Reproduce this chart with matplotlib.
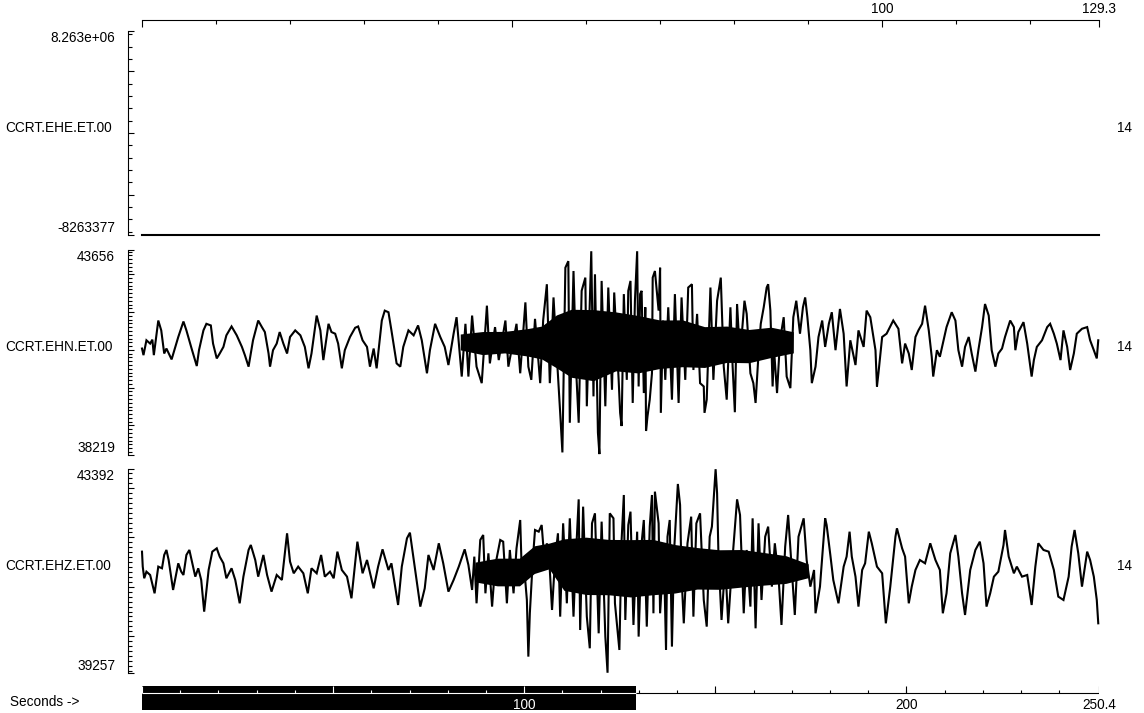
import numpy as np
import matplotlib
matplotlib.use("Agg")
import matplotlib.pyplot as plt
from matplotlib.ticker import FixedLocator, MultipleLocator

plt.rcParams['font.family'] = ['Liberation Sans', 'DejaVu Sans']
plt.rcParams['font.size'] = 9.8

W, H = 1144, 713
PT = 0.72  # points per pixel at dpi 100

channels = ['CCRT.EHE.ET.00', 'CCRT.EHN.ET.00', 'CCRT.EHZ.ET.00']
gains = ['14', '14', '14']
window_end = 129.3   # seconds shown in the traces
record_end = 250.4   # seconds in the whole record

ehe_range = (-8263377, 8263377)
ehn_range = (38219, 43656)
ehz_range = (39257, 43392)

# EHE is a dead channel, flat at its minimum
t_ehe = [0.0, 129.3]
ehe = [-8263377, -8263377]

# EHN turning points (seconds, counts)
t_ehn = [
    0.0, 0.2, 0.6, 1.1, 1.4, 1.6, 2.2, 2.6, 3.0, 3.3,
    4.0, 4.5, 4.9, 5.6, 6.0, 6.7, 7.4, 7.7, 8.3, 8.7,
    9.3, 9.6, 10.1, 10.5, 11.0, 11.4, 12.1, 12.8, 13.5, 13.9,
    14.4, 15.0, 15.7, 16.2, 16.6, 17.1, 17.3, 17.7, 18.2, 18.6,
    19.1, 19.6, 20.0, 20.7, 21.4, 22.0, 22.5, 22.9, 23.6, 24.1,
    24.5, 25.2, 25.6, 26.1, 26.5, 27.0, 27.4, 28.1, 28.8, 29.2,
    29.8, 30.4, 30.8, 31.3, 31.7, 32.4, 32.8, 33.3, 33.7, 34.4,
    34.9, 35.3, 36.0, 36.7, 37.3, 37.8, 38.5, 38.9, 39.6, 40.3,
    40.9, 41.4, 42.1, 42.5, 43.2, 43.7, 44.1, 44.6, 45.2, 45.9,
    46.6, 47.0, 47.7, 48.2, 49.1, 49.5, 50.6, 51.1, 51.8, 52.2,
    52.6, 53.1, 53.8, 54.2, 54.7, 55.1, 55.6, 56.0, 56.5, 56.8,
    57.2, 57.6, 57.8, 58.3, 58.7, 59.0, 59.4, 59.9, 60.1, 60.7,
    61.0, 61.2, 61.6, 61.8, 62.1, 62.6, 63.0, 63.5, 63.8, 64.4,
    64.6, 64.8, 65.1, 65.5, 65.7, 66.0, 66.3, 66.6, 66.9, 67.1,
    67.3, 67.5, 67.8, 68.0, 68.1, 68.3, 68.6, 68.9, 69.0, 69.3,
    69.8, 70.0, 70.1, 70.4, 70.7, 71.1, 71.6, 72.0, 72.5, 72.9,
    73.4, 73.8, 74.3, 74.5, 75.0, 75.4, 75.9, 76.0, 76.3, 76.8,
    77.2, 77.7, 78.2, 78.6, 79.0, 79.5, 79.8, 80.1, 80.4, 80.8,
    81.4, 81.7, 82.2, 82.6, 82.9, 83.3, 83.6, 84.0, 84.4, 84.6,
    84.9, 85.2, 85.4, 85.8, 86.2, 86.7, 87.1, 87.6, 88.0, 88.4,
    88.9, 89.3, 89.6, 89.9, 90.3, 90.5, 91.0, 91.4, 91.9, 92.3,
    92.8, 93.2, 93.7, 94.3, 94.8, 95.2, 95.7, 96.4, 96.8, 97.5,
    97.9, 98.4, 99.1, 99.3, 99.5, 100.0, 100.6, 101.5, 102.2, 102.7,
    103.1, 103.6, 104.0, 104.5, 104.9, 105.4, 105.8, 106.3, 106.7, 106.9,
    107.4, 107.8, 108.3, 108.7, 109.4, 109.9, 110.3, 110.8, 111.2, 111.7,
    112.1, 112.6, 113.0, 113.5, 113.9, 114.4, 114.8, 115.3, 115.7, 116.2,
    116.6, 117.3, 117.8, 118.0, 118.4, 119.1, 119.6, 120.2, 120.5, 120.9,
    121.6, 122.3, 122.7, 123.2, 123.6, 124.1, 124.5, 125.0, 125.4, 125.9,
    126.3, 127.0, 127.7, 128.1, 128.6, 129.0, 129.2,
]
ehn = [
    41036, 40861, 41254, 41167, 41271, 40861, 41777, 41516, 40904, 41036,
    40748, 41079, 41341, 41751, 41516, 41036, 40573, 40992, 41516, 41690,
    41647, 41167, 40774, 40904, 41079, 41385, 41620, 41385, 41079, 40861,
    40556, 41254, 41777, 41603, 41472, 40904, 40556, 40992, 41167, 41472,
    41167, 40904, 41341, 41516, 41385, 41079, 40512, 40904, 41908, 41516,
    40730, 41690, 41472, 41428, 41167, 40512, 40992, 41341, 41585, 41620,
    41254, 41079, 40556, 41036, 40512, 41777, 42039, 41996, 41516, 40643,
    40556, 41079, 41516, 41385, 41647, 41254, 40381, 40992, 41690, 41341,
    41079, 40599, 41428, 41865, 40294, 41690, 40294, 41908, 40556, 40120,
    42170, 40643, 41603, 40730, 41777, 40556, 41690, 40381, 42257, 40556,
    40207, 41821, 40120, 41777, 42737, 40120, 42388, 40992, 39334, 38287,
    43174, 43348, 39072, 43087, 40294, 39072, 42563, 42912, 39508, 43610,
    39770, 43000, 38810, 38243, 42825, 39508, 42650, 39945, 42519, 40207,
    39334, 38985, 42476, 40207, 42563, 42825, 39596, 42301, 43610, 40032,
    42476, 42563, 39858, 42127, 38854, 39247, 39683, 40381, 42912, 43087,
    42039, 43174, 39334, 41777, 40207, 42127, 39683, 42476, 39596, 42388,
    40207, 42650, 42737, 40468, 41952, 40120, 40032, 39334, 39683, 42650,
    40207, 42301, 42912, 40556, 39683, 42127, 40556, 39351, 42214, 40818,
    42301, 41952, 40381, 40120, 39596, 40904, 41690, 42127, 42650, 42737,
    42039, 40032, 40992, 39858, 41254, 41865, 40294, 39988, 41865, 42301,
    41428, 42127, 42388, 41865, 40992, 40120, 40556, 41341, 41777, 41079,
    41690, 41996, 40992, 42083, 41428, 40032, 41254, 40599, 41516, 41079,
    42039, 41865, 40992, 40032, 40381, 41341, 41428, 41777, 41559, 40643,
    41167, 40904, 40468, 41341, 41516, 41690, 42170, 41516, 40818, 40294,
    40992, 40818, 41254, 41603, 41996, 41777, 40992, 40556, 41079, 41341,
    40904, 40425, 40992, 41603, 42214, 41908, 40992, 40556, 40904, 41036,
    41341, 41777, 41603, 40992, 41472, 41734, 41167, 40294, 40730, 41079,
    41254, 41603, 41690, 41428, 41167, 40730, 41516, 41079, 40468, 40904,
    41428, 41559, 41603, 41254, 40992, 40774, 41254,
]
# dense part of the EHN coda: upper / lower edge of the solid core
t_ehn_band = [43, 46, 49, 52, 54, 56, 58, 61, 64, 67, 70, 73, 76, 79, 82, 85, 88]
ehn_band_hi = [41420, 41485, 41490, 41560, 41630, 41925, 42075, 42065, 42005,
               41910, 41790, 41795, 41615, 41630, 41540, 41600, 41480]
ehn_band_lo = [41000, 40875, 40920, 40840, 40760, 40525, 40275, 40185, 40445,
               40390, 40510, 40555, 40535, 40670, 40660, 40800, 40920]

# EHZ turning points (seconds, counts)
t_ehz = [
    0.0, 0.1, 0.3, 0.6, 1.1, 1.7, 2.2, 2.7, 3.0, 3.3,
    3.6, 4.2, 4.9, 5.3, 5.6, 6.0, 6.4, 6.7, 7.2, 7.6,
    8.0, 8.4, 9.0, 9.5, 10.1, 10.5, 11.0, 11.4, 12.1, 12.6,
    13.2, 13.7, 14.4, 14.7, 15.3, 15.7, 16.4, 16.9, 17.5, 18.2,
    18.9, 19.6, 20.0, 20.5, 21.1, 21.8, 22.4, 22.9, 23.6, 24.2,
    24.7, 25.4, 25.9, 26.4, 27.0, 27.7, 28.3, 28.8, 29.1, 29.8,
    30.4, 31.3, 31.9, 32.5, 33.3, 33.7, 34.6, 35.1, 35.8, 36.2,
    36.9, 37.6, 38.2, 38.7, 39.4, 40.1, 40.7, 41.4, 42.1, 42.8,
    43.6, 44.1, 44.6, 44.9, 45.2, 45.7, 46.1, 46.4, 46.8, 47.3,
    47.7, 48.4, 48.8, 49.3, 49.7, 50.2, 50.6, 51.1, 51.3, 51.7,
    52.0, 52.2, 52.4, 52.8, 53.1, 53.6, 54.0, 54.4, 54.7, 55.1,
    55.4, 55.8, 56.2, 56.5, 56.9, 57.4, 57.8, 58.3, 58.6, 59.0,
    59.2, 59.6, 60.1, 60.5, 60.8, 61.2, 61.7, 62.1, 62.6, 62.9,
    63.2, 63.7, 63.9, 64.5, 64.8, 65.1, 65.3, 65.7, 66.0, 66.4,
    66.9, 67.1, 67.5, 67.8, 68.2, 68.6, 68.9, 69.1, 69.3, 69.8,
    70.0, 70.5, 70.8, 71.0, 71.3, 71.6, 71.9, 72.4, 72.7, 72.9,
    73.2, 73.7, 74.2, 74.5, 74.9, 75.4, 75.9, 76.3, 76.7, 77.0,
    77.2, 77.5, 77.7, 77.9, 78.3, 78.8, 79.2, 79.7, 80.1, 80.4,
    80.8, 81.3, 81.7, 82.2, 82.5, 82.9, 83.3, 83.7, 84.2, 84.6,
    85.1, 85.5, 86.0, 86.4, 86.9, 87.3, 87.8, 88.2, 88.7, 89.4,
    89.8, 90.3, 90.8, 91.0, 91.6, 92.3, 92.5, 93.0, 93.4, 94.1,
    94.8, 95.2, 95.6, 95.9, 96.4, 96.8, 97.3, 97.7, 98.2, 98.6,
    99.3, 100.0, 100.5, 101.1, 101.8, 102.0, 102.7, 103.1, 103.6, 104.0,
    104.5, 105.1, 105.8, 106.5, 107.2, 107.8, 108.2, 108.7, 109.2, 109.9,
    110.3, 110.8, 111.2, 111.9, 112.6, 113.2, 113.7, 114.1, 114.6, 115.1,
    115.7, 116.4, 116.6, 117.1, 117.8, 118.2, 118.9, 119.6, 120.2, 120.7,
    121.1, 121.8, 122.5, 123.2, 123.8, 124.5, 125.2, 125.6, 126.0, 126.5,
    127.0, 127.4, 127.7, 128.1, 128.6, 129.0, 129.2,
]
ehz = [
    41712, 41409, 41173, 41307, 41240, 40869, 41409, 41375, 41645, 41746,
    41543, 40937, 41476, 41307, 41240, 41645, 41746, 41543, 41206, 41375,
    41139, 40498, 41341, 41712, 41779, 41611, 41476, 41173, 41375, 41139,
    40667, 41206, 41746, 41847, 41543, 41206, 41645, 41240, 40903, 41240,
    41139, 42083, 41510, 41274, 41409, 41274, 40869, 41375, 41274, 41645,
    41206, 41307, 41173, 41712, 41341, 41206, 40768, 41476, 41914, 41274,
    41543, 40970, 41409, 41759, 41341, 41476, 40633, 41409, 41982, 42096,
    41341, 40600, 40970, 41645, 41341, 41881, 41476, 40903, 41139, 41409,
    41759, 41442, 40937, 41611, 40667, 41948, 42049, 40869, 41678, 40600,
    41409, 41948, 41914, 40667, 41746, 40869, 41779, 42352, 41341, 41274,
    40734, 39588, 40465, 41543, 42150, 42116, 42251, 41476, 41881, 41341,
    40532, 41543, 42083, 40397, 42285, 40667, 42386, 40397, 41543, 42770,
    40127, 42622, 40397, 39757, 42285, 42487, 40060, 42319, 39993, 39262,
    42487, 42386, 40667, 39723, 41948, 42858, 40330, 42251, 42521, 40229,
    42116, 39993, 41881, 42352, 40195, 42218, 42858, 40465, 42926, 42285,
    40465, 41746, 39723, 42015, 42352, 39791, 41746, 43081, 42656, 41206,
    40262, 41881, 42420, 40397, 42285, 42487, 40734, 40195, 42015, 42218,
    42690, 43380, 42892, 41543, 40330, 41476, 40262, 41409, 42184, 42770,
    42454, 40465, 41746, 40600, 42386, 40161, 42285, 40734, 42015, 42218,
    41004, 41881, 41206, 40229, 41813, 42454, 41341, 40431, 42015, 42386,
    41543, 41004, 41341, 40465, 41004, 42386, 42251, 41645, 41139, 40667,
    41409, 41611, 42116, 41611, 41206, 40600, 41341, 41476, 42116, 41881,
    41409, 41274, 40262, 41004, 42015, 42184, 41779, 41611, 40667, 41004,
    41341, 41543, 41476, 41881, 41543, 41341, 40465, 40869, 41678, 42049,
    41611, 40869, 40431, 41341, 41746, 41914, 41476, 40600, 40869, 41206,
    41307, 41847, 42150, 41611, 41274, 41409, 41206, 41240, 40633, 41409,
    41881, 41746, 41712, 41341, 40802, 40734, 41206, 41813, 42150, 41678,
    41004, 41409, 41712, 41543, 41206, 40734, 40262,
]
t_ehz_band = [45, 48, 51, 53, 55, 57, 60, 63, 66, 69, 72, 75, 78, 81, 84, 87, 90]
ehz_band_hi = [41500, 41580, 41580, 41830, 41885, 41970, 42005, 41960, 41955,
               41960, 41855, 41795, 41750, 41755, 41695, 41630, 41465]
ehz_band_lo = [41100, 41020, 41020, 41270, 41365, 40930, 40845, 40840, 40795,
               40840, 40875, 40955, 40950, 40995, 41035, 41070, 41185]


fig = plt.figure(figsize=(W / 100, H / 100), dpi=100)


def px_axes(x0, y0, x1, y1):
    return fig.add_axes([x0 / W, 1 - y1 / H, (x1 - x0) / W, (y1 - y0) / H])


panels = [
    (31, 235, ehe_range, [-5e6, 0, 5e6], 1e6, '8.263e+06', '-8263377', t_ehe, ehe, None),
    (249.5, 455, ehn_range, [39000, 40000, 41000, 42000, 43000], 100, '43656', '38219',
     t_ehn, ehn, (t_ehn_band, ehn_band_lo, ehn_band_hi)),
    (468.6, 673, ehz_range, [40000, 41000, 42000, 43000], 100, '43392', '39257',
     t_ehz, ehz, (t_ehz_band, ehz_band_lo, ehz_band_hi)),
]

for i, (y0, y1, (lo, hi), majors, minor, top_lab, bot_lab, t, v, band) in enumerate(panels):
    ax = px_axes(142, y0, 1099, y1)
    ax.set_xlim(0, window_end)
    ax.set_ylim(lo, hi)
    for s in ['top', 'right', 'bottom']:
        ax.spines[s].set_visible(False)
    ax.spines['left'].set_position(('outward', 14 * PT))
    ax.spines['left'].set_linewidth(1.1 * PT)
    ax.set_xticks([])
    ax.yaxis.set_major_locator(FixedLocator([lo] + majors + [hi]))
    ax.yaxis.set_minor_locator(MultipleLocator(minor))
    ax.tick_params(axis='y', which='major', direction='in', length=6 * PT, width=1.1 * PT, labelleft=False)
    ax.tick_params(axis='y', which='minor', direction='in', length=3.5 * PT, width=1.1 * PT)
    ax.patch.set_visible(False)

    ax.annotate(top_lab, xy=(0, hi), xycoords=('axes fraction', 'data'), xytext=(-27, 0),
                textcoords='offset pixels', ha='right', va='top')
    ax.annotate(bot_lab, xy=(0, lo), xycoords=('axes fraction', 'data'), xytext=(-27, 0),
                textcoords='offset pixels', ha='right', va='bottom')

    if band is not None:
        ax.fill_between(band[0], band[1], band[2], color='black', lw=0)
    ax.plot(t, v, color='black', lw=1.5, clip_on=False, solid_joinstyle='miter')

    yc = [128, 347, 566][i]
    fig.text(5 / W, 1 - yc / H, channels[i], ha='left', va='center')
    fig.text(1117 / W, 1 - yc / H, gains[i], ha='left', va='center')

# time ruler on top (visible window)
top = px_axes(142, 20, 1099, 30)
top.set_xlim(0, window_end)
top.set_ylim(0, 1)
for s in ['left', 'right', 'bottom']:
    top.spines[s].set_visible(False)
top.spines['top'].set_linewidth(1.1 * PT)
top.set_yticks([])
top.xaxis.tick_top()
top.xaxis.set_major_locator(FixedLocator([0, 50, 100, window_end]))
top.set_xticklabels(['', '', '100', '129.3'])
top.xaxis.set_minor_locator(MultipleLocator(10))
top.tick_params(axis='x', which='major', direction='in', length=7 * PT, width=1.1 * PT, pad=3)
top.tick_params(axis='x', which='minor', direction='in', length=3.5 * PT, width=1.1 * PT)
top.patch.set_visible(False)

# scroll ruler at the bottom (whole record, window drawn as a black bar)
bot = px_axes(142, 686, 1099, 710)
bot.set_xlim(0, record_end)
bot.set_ylim(24, 0)
bot.axis('off')
bot.axvspan(0, window_end, color='black', lw=0)
bot.hlines(7, 0, window_end, color='white', lw=1.1 * PT)
bot.hlines(7, window_end, record_end, color='black', lw=1.1 * PT)
minor_t = np.arange(10, 250, 10)
major_t = [0, 50, 100, 150, 200, record_end]
for x in minor_t:
    bot.vlines(x, 4, 7, color='white' if x < window_end else 'black', lw=1.1 * PT)
for x in major_t:
    bot.vlines(x, 0, 7, color='white' if x < window_end else 'black', lw=1.1 * PT)
bot.text(100, 19, '100', color='white', ha='center', va='center')
bot.text(200, 19, '200', color='black', ha='center', va='center')
bot.text(record_end, 19, '250.4', color='black', ha='center', va='center')
fig.text(10 / W, 1 - 702 / H, 'Seconds ->', ha='left', va='center')

fig.savefig('out.png', dpi=100)
